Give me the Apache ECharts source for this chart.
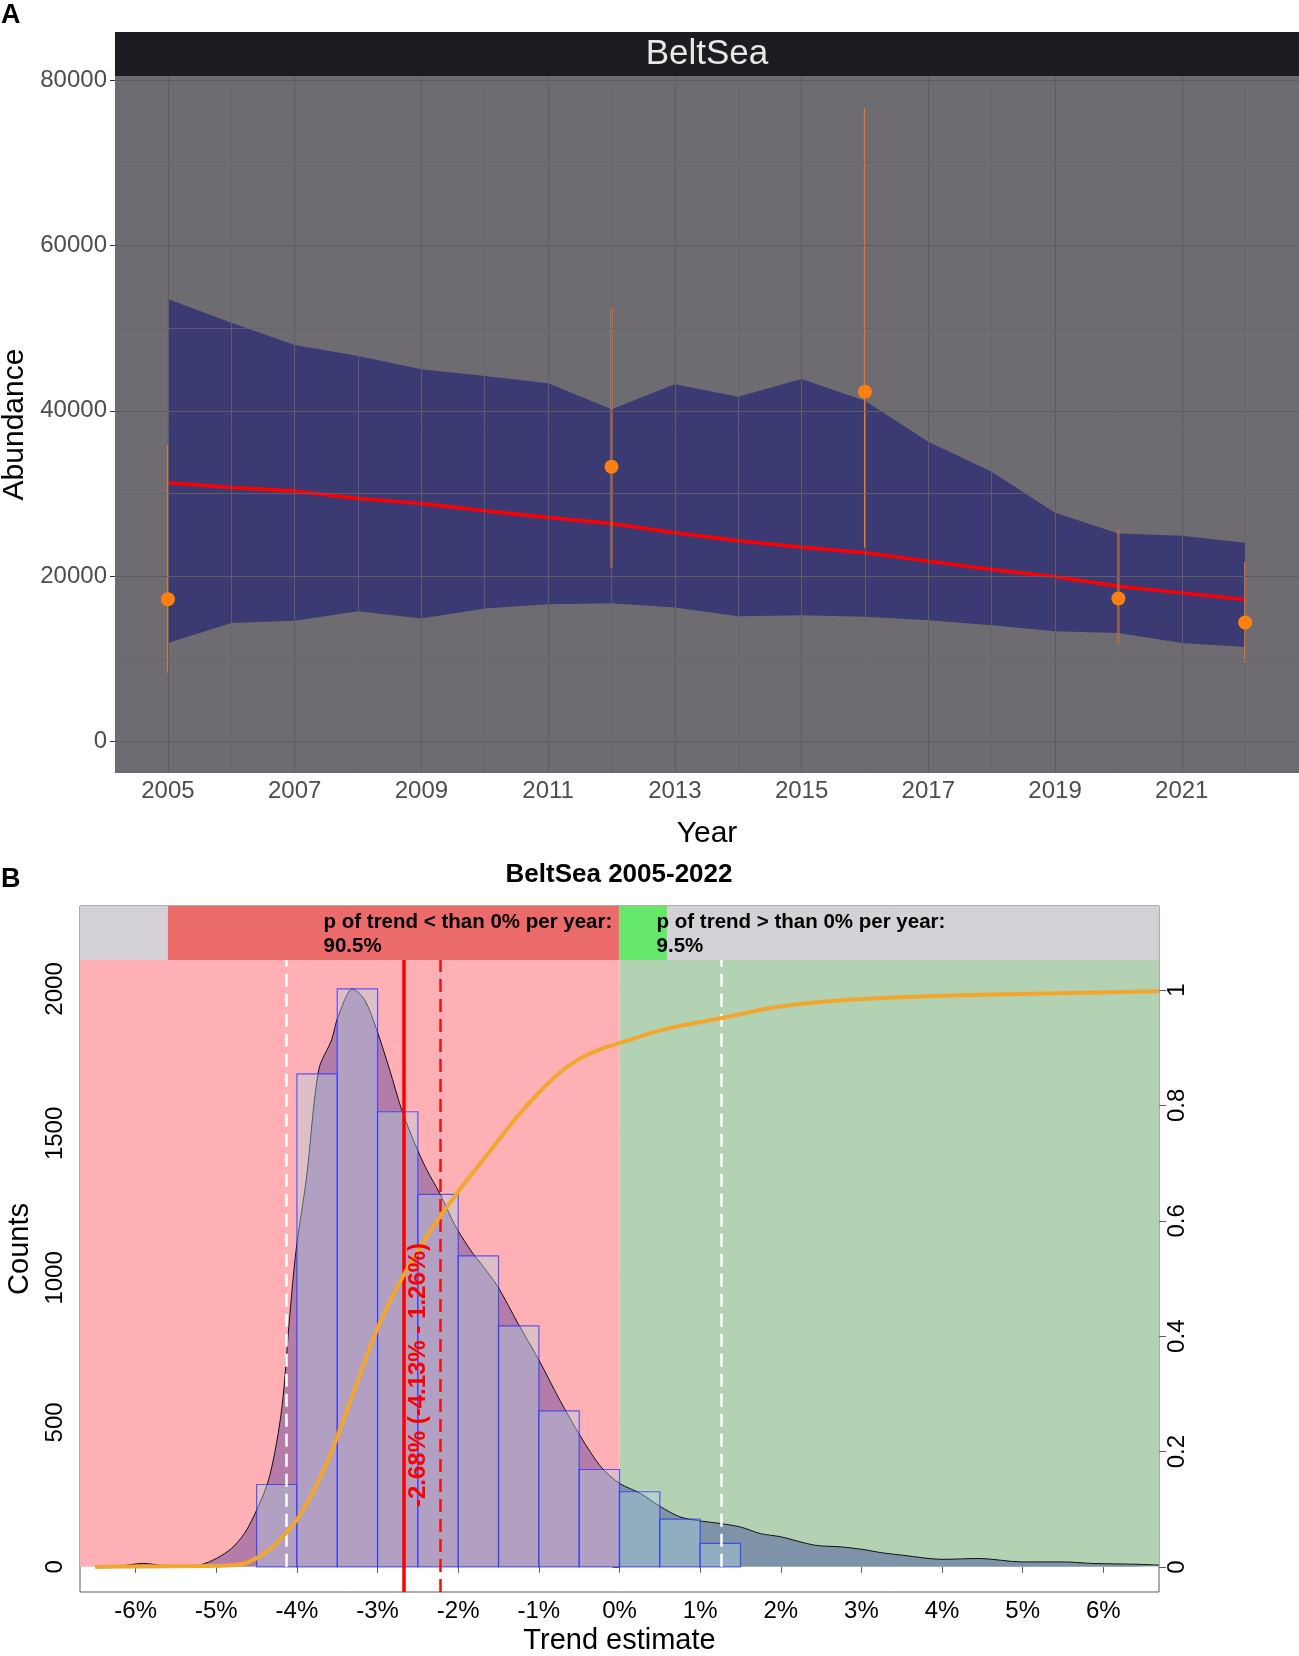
<!DOCTYPE html>
<html lang="en">
<head>
<meta charset="UTF-8">
<title>BeltSea abundance and trend</title>
<script src="https://cdn.jsdelivr.net/npm/echarts@6.0.0/dist/echarts.min.js"></script>
<style>
  body { margin: 0; background: #ffffff; }
  #main { width: 1299px; height: 1656px; }
</style>
</head>
<body>
<div id="main"></div>
<script type="text/javascript">
// ---- panel A: modelled abundance per year ----
var years      = [2005, 2006, 2007, 2008, 2009, 2010, 2011, 2012, 2013, 2014, 2015, 2016, 2017, 2018, 2019, 2020, 2021, 2022];
var bandLower  = [11930, 14350, 14600, 15770, 14880, 16090, 16610, 16730, 16210, 15160, 15280, 15080, 14680, 14070, 13350, 13140, 11930, 11450];
var bandUpper  = [53520, 50650, 47950, 46620, 45010, 44200, 43320, 40170, 43200, 41700, 43840, 41200, 36250, 32620, 27660, 25170, 24880, 24030];
var trendLine  = [31290, 30730, 30290, 29400, 28800, 27900, 27100, 26370, 25240, 24280, 23510, 22820, 21820, 20810, 19920, 18790, 17980, 17180];

// survey estimates with their intervals
var obsYears = [2005, 2012, 2016, 2020, 2022];
var obsValue = [17210, 33230, 42300, 17300, 14400];
var obsLow   = [8300, 21010, 23430, 11650, 9560];
var obsHigh  = [35850, 52510, 76590, 25650, 21730];

var yearTicks  = [2005, 2007, 2009, 2011, 2013, 2015, 2017, 2019, 2021];
var yearMinor  = [2006, 2008, 2010, 2012, 2014, 2016, 2018, 2020, 2022];
var abundTicks = [0, 20000, 40000, 60000, 80000];
var abundMinor = [10000, 30000, 50000, 70000];

// ---- panel B: distribution of the trend estimate ----
var binStart = [-4.5, -4, -3.5, -3, -2.5, -2, -1.5, -1, -0.5, 0, 0.5, 1];
var binEnd   = [-4, -3.5, -3, -2.5, -2, -1.5, -1, -0.5, 0, 0.5, 1, 1.5];
var binCount = [285, 1706, 2000, 1575, 1289, 1076, 834, 540, 337, 260, 165, 81];

var densX = [-6.5, -6.2, -5.9, -5.7, -5.5, -5.2, -5.0, -4.81, -4.65, -4.5, -4.34, -4.19, -4.09, -4.01, -3.88, -3.73, -3.57, -3.49, -3.31, -3.16, -3.01, -2.85, -2.70, -2.54, -2.39, -2.23, -2.03, -1.82, -1.72, -1.51, -1.26, -1.0, -0.74, -0.48, -0.23, 0, 0.26, 0.51, 0.75, 1.0, 1.25, 1.5, 1.75, 2.0, 2.42, 2.75, 3.0, 3.25, 3.52, 4.0, 4.46, 4.99, 5.52, 5.85, 6.4, 6.69];
var densY = [0, 3, 12, 6, 2, 7, 29, 64, 116, 196, 312, 543, 866, 1097, 1350, 1720, 1824, 1904, 2000, 1962, 1858, 1720, 1581, 1466, 1374, 1293, 1177, 1085, 1050, 970, 843, 716, 577, 450, 346, 289, 254, 208, 173, 159, 150, 138, 115, 104, 75, 69, 61, 49, 40, 26, 29, 17, 17, 12, 9, 6];

var cumX = [-6.5, -5.9, -5.0, -4.65, -4.34, -4.14, -3.98, -3.78, -3.57, -3.31, -3.03, -2.75, -2.52, -2.34, -2.03, -1.77, -1.51, -1.26, -1.0, -0.74, -0.48, -0.23, 0, 0.53, 1.25, 1.97, 2.86, 4.0, 5.29, 6.69];
var cumY = [0, 0.001, 0.002, 0.006, 0.030, 0.058, 0.086, 0.135, 0.200, 0.298, 0.404, 0.487, 0.543, 0.584, 0.645, 0.692, 0.738, 0.782, 0.822, 0.857, 0.882, 0.898, 0.908, 0.931, 0.951, 0.971, 0.983, 0.990, 0.994, 0.998];

var trendTicks = [-6, -5, -4, -3, -2, -1, 0, 1, 2, 3, 4, 5, 6];
var countTicks = [0, 500, 1000, 1500, 2000];
var probTicks  = [0, 0.2, 0.4, 0.6, 0.8, 1];

var trendEst = -2.68, trendMid = -2.22, ciLow = -4.13, ciHigh = 1.26;
var stripEdges = [-6.69, -5.6, 0, 0.59, 6.69];   // grey | p<0 | p>0 | grey
var stripBase = 2100, stripTop = 2287;
var labelBelow = 'p of trend < than 0% per year:\n90.5%';
var labelAbove = 'p of trend > than 0% per year:\n9.5%';
var labelTrend = '-2.68% (-4.13% - 1.26%)';

var FONT = '"Liberation Sans", Arial, sans-serif';

var myChart = echarts.init(document.getElementById('main'));

function lineMarks(vals, key) {
    return vals.map(function (v) { var o = {}; o[key] = v; return o; });
}

option = {
    animation: false,
    textStyle: { fontFamily: FONT },
    grid: [
        { left: 115, top: 76, width: 1184, height: 697, show: true, backgroundColor: '#6e6c70', borderWidth: 0,
          containLabel: false, outerBoundsMode: 'none' },
        { left: 80, top: 906, width: 1079, height: 686, show: true, backgroundColor: 'transparent', borderColor: '#5a5a5a', borderWidth: 1,
          containLabel: false, outerBoundsMode: 'none' }
    ],
    xAxis: [
        {
            type: 'value', gridIndex: 0, min: 2004.165, max: 2022.85,
            name: 'Year', nameLocation: 'middle', nameGap: 46,
            nameTextStyle: { fontSize: 30, color: '#000' },
            axisLine: { show: false },
            axisTick: { show: true, length: 5, lineStyle: { color: '#333' }, customValues: yearTicks },
            axisLabel: { customValues: yearTicks, fontSize: 24, color: '#4d4d4d', margin: 6,
                         formatter: function (v) { return String(v); } },
            splitLine: { show: false }
        },
        {
            type: 'value', gridIndex: 1, min: -6.69, max: 6.69,
            name: 'Trend estimate', nameLocation: 'middle', nameGap: 34,
            nameTextStyle: { fontSize: 29, color: '#000' },
            axisLine: { show: false },
            axisTick: { show: true, length: 6, lineStyle: { color: '#5a5a5a' }, customValues: trendTicks },
            axisLabel: { customValues: trendTicks, fontSize: 24, color: '#000', margin: 7,
                         formatter: function (v) { return v + '%'; } },
            splitLine: { show: false }
        }
    ],
    yAxis: [
        {
            type: 'value', gridIndex: 0, min: -3800, max: 80480,
            name: 'Abundance', nameLocation: 'middle', nameGap: 84,
            nameTextStyle: { fontSize: 30, color: '#000' },
            axisLine: { show: false },
            axisTick: { show: true, length: 5, lineStyle: { color: '#333' }, customValues: abundTicks },
            axisLabel: { customValues: abundTicks, fontSize: 24, color: '#4d4d4d', margin: 8,
                         formatter: function (v) { return String(v); } },
            splitLine: { show: false }
        },
        {
            type: 'value', gridIndex: 1, min: -87, max: 2287,
            name: 'Counts', nameLocation: 'middle', nameGap: 46,
            nameTextStyle: { fontSize: 29, color: '#000' },
            axisLine: { show: false },
            axisTick: { show: true, length: 7, lineStyle: { color: '#5a5a5a' }, customValues: countTicks },
            axisLabel: { customValues: countTicks, fontSize: 24, color: '#000', margin: 13, rotate: 90,
                         formatter: function (v) { return String(v); } },
            splitLine: { show: false }
        },
        {
            type: 'value', gridIndex: 1, position: 'right', min: -0.0434, max: 1.1457,
            axisLine: { show: false },
            axisTick: { show: true, length: 7, lineStyle: { color: '#5a5a5a' }, customValues: probTicks },
            axisLabel: { customValues: probTicks, fontSize: 24, color: '#000', margin: 6, rotate: 90,
                         formatter: function (v) { return String(v); } },
            splitLine: { show: false }
        }
    ],
    graphic: [
        { type: 'rect', shape: { x: 115, y: 32, width: 1184, height: 44 }, style: { fill: '#1e1c20' } },
        { type: 'text', x: 707, y: 54, style: { text: 'BeltSea', fill: '#e8e8e8', fontSize: 35, fontFamily: FONT, align: 'center', verticalAlign: 'middle' } },
        { type: 'text', x: 1, y: 16, style: { text: 'A', fill: '#000', fontSize: 27, fontWeight: 'bold', fontFamily: FONT, verticalAlign: 'middle' } },
        { type: 'text', x: 1, y: 880, style: { text: 'B', fill: '#000', fontSize: 27, fontWeight: 'bold', fontFamily: FONT, verticalAlign: 'middle' } },
        { type: 'text', x: 619, y: 875, style: { text: 'BeltSea 2005-2022', fill: '#000', fontSize: 26, fontWeight: 'bold', fontFamily: FONT, align: 'center', verticalAlign: 'middle' } }
    ],
    series: [
        // panel A grid lines
        {
            name: 'gridA', type: 'line', xAxisIndex: 0, yAxisIndex: 0, data: [], z: 1, silent: true,
            markLine: {
                silent: true, symbol: ['none', 'none'], label: { show: false },
                lineStyle: { color: '#5f5d62', width: 1, type: 'solid' },
                data: lineMarks(yearTicks, 'xAxis').concat(lineMarks(abundTicks, 'yAxis'))
            }
        },
        {
            name: 'gridAminor', type: 'line', xAxisIndex: 0, yAxisIndex: 0, data: [], z: 1, silent: true,
            markLine: {
                silent: true, symbol: ['none', 'none'], label: { show: false },
                lineStyle: { color: '#67656a', width: 0.8, type: 'solid' },
                data: lineMarks(yearMinor, 'xAxis').concat(lineMarks(abundMinor, 'yAxis'))
            }
        },
        // confidence band
        {
            name: 'band', type: 'custom', xAxisIndex: 0, yAxisIndex: 0, z: 2, silent: true,
            data: years.map(function (y, i) { return [y, bandLower[i], bandUpper[i]]; }),
            renderItem: function (params, api) {
                if (params.dataIndex !== 0) { return null; }
                var pts = [];
                for (var i = 0; i < years.length; i++) { pts.push(api.coord([years[i], bandUpper[i]])); }
                for (var j = years.length - 1; j >= 0; j--) { pts.push(api.coord([years[j], bandLower[j]])); }
                return { type: 'polygon', shape: { points: pts }, style: { fill: 'rgba(10,8,118,0.5)' } };
            }
        },
        {
            name: 'trend', type: 'line', xAxisIndex: 0, yAxisIndex: 0, z: 3, symbol: 'none',
            data: years.map(function (y, i) { return [y, trendLine[i]]; }),
            lineStyle: { color: '#ff0000', width: 3.5 }
        },
        {
            name: 'errorbars', type: 'custom', xAxisIndex: 0, yAxisIndex: 0, z: 4,
            data: obsYears.map(function (y, i) { return [y, obsLow[i], obsHigh[i]]; }),
            renderItem: function (params, api) {
                var lo = api.coord([api.value(0), api.value(1)]);
                var hi = api.coord([api.value(0), api.value(2)]);
                return { type: 'line', shape: { x1: lo[0], y1: lo[1], x2: hi[0], y2: hi[1] },
                         style: { stroke: '#e6782a', lineWidth: 2 } };
            }
        },
        {
            name: 'survey', type: 'scatter', xAxisIndex: 0, yAxisIndex: 0, z: 5,
            symbolSize: 14,
            data: obsYears.map(function (y, i) { return [y, obsValue[i]]; }),
            itemStyle: { color: '#ff8010', opacity: 1 }
        },

        // panel B backgrounds and top strip
        {
            name: 'bgB', type: 'line', xAxisIndex: 1, yAxisIndex: 1, data: [], z: 1, silent: true,
            markArea: {
                silent: true, label: { show: false },
                data: [
                    [{ xAxis: stripEdges[0], yAxis: 0, itemStyle: { color: '#ffb0b5' } }, { xAxis: stripEdges[2], yAxis: stripBase }],
                    [{ xAxis: stripEdges[2], yAxis: 0, itemStyle: { color: '#b3d1b3' } }, { xAxis: stripEdges[4], yAxis: stripBase }],
                    [{ xAxis: stripEdges[0], yAxis: stripBase, itemStyle: { color: '#d3d1d5' } }, { xAxis: stripEdges[1], yAxis: stripTop }],
                    [{ xAxis: stripEdges[1], yAxis: stripBase, itemStyle: { color: '#eb6a6a' } }, { xAxis: stripEdges[2], yAxis: stripTop }],
                    [{ xAxis: stripEdges[2], yAxis: stripBase, itemStyle: { color: '#66e86a' } }, { xAxis: stripEdges[3], yAxis: stripTop }],
                    [{ xAxis: stripEdges[3], yAxis: stripBase, itemStyle: { color: '#d3d1d5' } }, { xAxis: stripEdges[4], yAxis: stripTop }]
                ]
            }
        },
        {
            name: 'density', type: 'line', xAxisIndex: 1, yAxisIndex: 1, z: 2, symbol: 'none',
            smooth: 0.3,
            data: densX.map(function (x, i) { return [x, densY[i]]; }),
            lineStyle: { color: '#111', width: 1 },
            areaStyle: { color: 'rgba(0,0,139,0.42)', origin: 0 }
        },
        {
            name: 'histogram', type: 'custom', xAxisIndex: 1, yAxisIndex: 1, z: 3,
            data: binStart.map(function (x, i) { return [x, binEnd[i], binCount[i]]; }),
            renderItem: function (params, api) {
                var p0 = api.coord([api.value(0), api.value(2)]);
                var p1 = api.coord([api.value(1), 0]);
                return { type: 'rect',
                         shape: { x: p0[0], y: p0[1], width: p1[0] - p0[0], height: p1[1] - p0[1] },
                         style: { fill: 'rgba(173,216,230,0.4)', stroke: 'rgba(40,40,255,0.7)', lineWidth: 1.2 } };
            }
        },
        {
            name: 'refLines', type: 'line', xAxisIndex: 1, yAxisIndex: 1, data: [], z: 4, silent: true,
            markLine: {
                silent: true, symbol: ['none', 'none'], label: { show: false },
                data: [
                    [{ coord: [ciLow, 0], lineStyle: { color: '#ffffff', width: 2.5, type: [13, 7] } }, { coord: [ciLow, stripBase] }],
                    [{ coord: [ciHigh, 0], lineStyle: { color: '#ffffff', width: 2.5, type: [13, 7] } }, { coord: [ciHigh, stripBase] }],
                    [{ coord: [trendEst, -87], lineStyle: { color: '#ff0000', width: 3.5, type: 'solid' } }, { coord: [trendEst, stripBase] }],
                    [{ coord: [trendMid, -87], lineStyle: { color: '#ee1111', width: 2.5, type: [13, 7] } }, { coord: [trendMid, stripBase] }]
                ]
            }
        },
        {
            name: 'cumulative', type: 'line', xAxisIndex: 1, yAxisIndex: 2, z: 5, symbol: 'none',
            smooth: 0.3,
            data: cumX.map(function (x, i) { return [x, cumY[i]]; }),
            lineStyle: { color: '#f2a72c', width: 4 }
        },
        {
            name: 'labels', type: 'scatter', xAxisIndex: 1, yAxisIndex: 1, z: 6, symbolSize: 0, silent: true,
            itemStyle: { opacity: 1 },
            data: [
                { value: [-3.67, 2188], label: { formatter: labelBelow } },
                { value: [0.46, 2188], label: { formatter: labelAbove } }
            ],
            label: { show: true, position: 'right', distance: 0, fontSize: 20.5, fontWeight: 'bold', color: '#000',
                     lineHeight: 24, align: 'left', textBorderWidth: 0, opacity: 1 }
        },
        {
            name: 'trendLabel', type: 'scatter', xAxisIndex: 1, yAxisIndex: 1, z: 6, symbolSize: 0, silent: true,
            itemStyle: { opacity: 1 },
            data: [{ value: [-2.49, 664] }],
            label: { show: true, position: 'inside', rotate: 90, formatter: labelTrend,
                     fontSize: 24, fontWeight: 'bold', color: '#ff0000', textBorderWidth: 0, opacity: 1 }
        }
    ]
};

myChart.setOption(option);
</script>
</body>
</html>
